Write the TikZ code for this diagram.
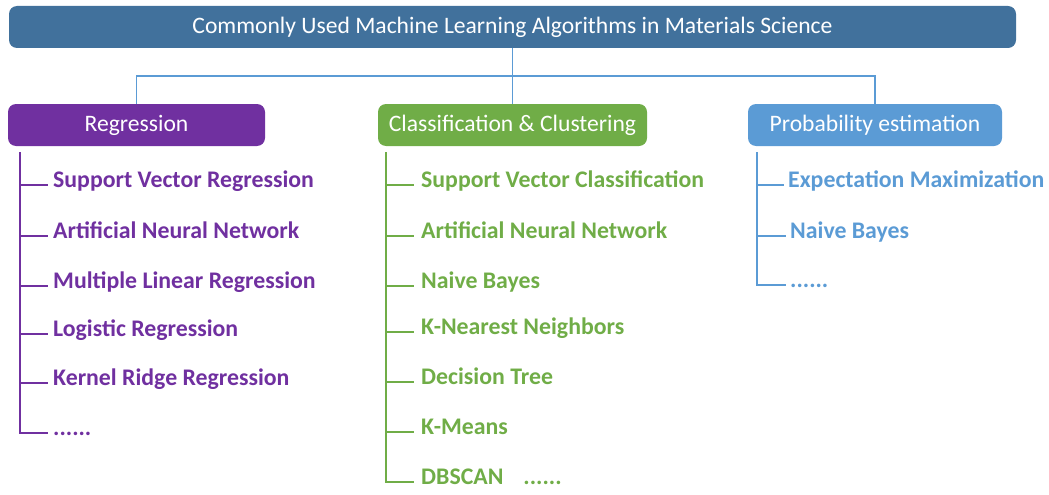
\documentclass[tikz,border=0pt]{standalone}
\usepackage{fontspec}
\setmainfont{Carlito}
\usetikzlibrary{positioning}

\definecolor{titleblue}{HTML}{41719C}
\definecolor{regpurple}{HTML}{7030A0}
\definecolor{clsgreen}{HTML}{70AD47}
\definecolor{probblue}{HTML}{5B9BD5}

\tikzset{
  headbox/.style={rounded corners=8pt, minimum height=42pt, text=white,
    font=\fontsize{23.6}{27}\selectfont, inner sep=0pt},
  itemtext/.style={anchor=west, inner sep=0pt, text height=0.78em, text depth=0.2em,
    font=\bfseries\fontsize{23.8}{27}\selectfont},
  trunk/.style={line width=1.6pt}
}

\begin{document}
\begin{tikzpicture}[x=1pt, y=-1pt]

    \useasboundingbox (0,0) rectangle (1049,495);

    % Title
    \node[headbox, fill=titleblue, minimum width=1007pt] (title) at (512.5,27) {Commonly Used Machine Learning Algorithms in Materials Science};

    % Category boxes
    \node[headbox, fill=regpurple, minimum width=257pt] (reg) at (136.5,125) {Regression};
    \node[headbox, fill=clsgreen, minimum width=269pt] (cls) at (512.5,125) {Classification \& Clustering};
    \node[headbox, fill=probblue, minimum width=254pt] (prob) at (875,125) {Probability estimation};

    % Connectors from title
    \coordinate (hub) at (512.5,76);
    \draw[probblue, line width=1.6pt] (title.south) -- (cls.north);
    \draw[probblue, line width=1.6pt] (reg.north) |- (hub) -| (prob.north);

    % Regression items
    \node[itemtext, text=regpurple] (r1) at (53,185) {Support Vector Regression};
    \node[itemtext, text=regpurple] (r2) at (53,236) {Artificial Neural Network};
    \node[itemtext, text=regpurple] (r3) at (53,286) {Multiple Linear Regression};
    \node[itemtext, text=regpurple] (r4) at (53,334) {Logistic Regression};
    \node[itemtext, text=regpurple] (r5) at (53,383) {Kernel Ridge Regression};
    \node[itemtext, text=regpurple] (r6) at (53,433) {......};
    \coordinate (rtop) at (20,152);
    \foreach \i in {1,...,6}
        \draw[trunk, regpurple] (rtop) |- ([xshift=-5pt]r\i.west);

    % Classification items
    \node[itemtext, text=clsgreen] (c1) at (421,185) {Support Vector Classification};
    \node[itemtext, text=clsgreen] (c2) at (421,236) {Artificial Neural Network};
    \node[itemtext, text=clsgreen] (c3) at (421,286) {Naive Bayes};
    \node[itemtext, text=clsgreen] (c4) at (421,332) {K-Nearest Neighbors};
    \node[itemtext, text=clsgreen] (c5) at (421,382) {Decision Tree};
    \node[itemtext, text=clsgreen] (c6) at (421,432) {K-Means};
    \node[itemtext, text=clsgreen] (c7) at (421,482) {DBSCAN\hspace{20pt}......};
    \coordinate (ctop) at (386,152);
    \foreach \i in {1,...,7}
        \draw[trunk, clsgreen] (ctop) |- ([xshift=-7pt]c\i.west);

    % Probability items
    \node[itemtext, text=probblue] (p1) at (788,185) {Expectation Maximization};
    \node[itemtext, text=probblue] (p2) at (790,236) {Naive Bayes};
    \node[itemtext, text=probblue] (p3) at (790,285) {......};
    \coordinate (ptop) at (757,152);
    \foreach \i in {1,...,3}
        \draw[trunk, probblue] (ptop) |- ([xshift=-4pt]p\i.west);

\end{tikzpicture}
\end{document}
